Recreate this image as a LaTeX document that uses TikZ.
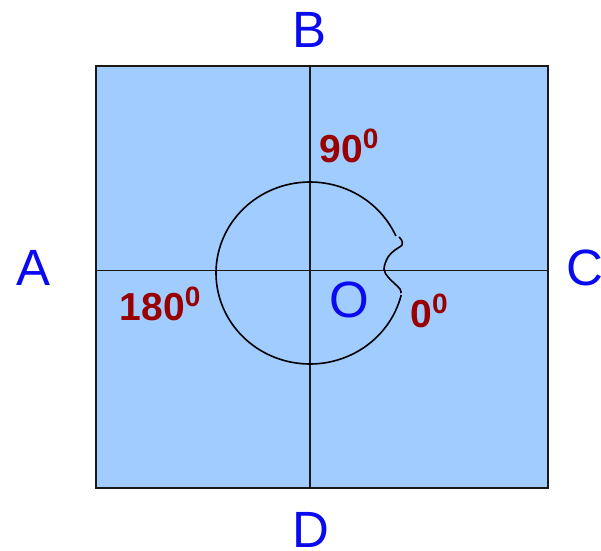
\documentclass[tikz,border=0pt]{standalone}
\usepackage{fontspec}
\setmainfont{Liberation Sans}
\definecolor{fillblue}{RGB}{160,204,255}
\definecolor{textblue}{RGB}{10,10,240}
\definecolor{degred}{RGB}{153,0,0}
\tikzset{
  letter/.style={text=textblue, font=\fontsize{51}{51}\selectfont, inner sep=0pt},
  deg/.style={text=degred, font=\fontsize{39}{39}\selectfont\bfseries, inner sep=0pt},
  thin line/.style={line width=1.5pt, draw=black!90}
}
\newcommand{\degsup}{\raisebox{14pt}{\fontsize{28}{28}\selectfont 0}}
\begin{document}
\begin{tikzpicture}[x=1pt,y=-1pt]
\useasboundingbox (0,0) rectangle (601,550);
\node[draw=black!90, line width=1.6pt, fill=fillblue, minimum width=452pt, minimum height=422pt, inner sep=0pt] (sq) at (322,277) {};
\coordinate (vt) at (310,66);
\coordinate (vb) at (310,488);
\coordinate (hl) at (96,270.5);
\coordinate (hr) at (548,270.5);
\draw[thin line] (vt) -- (vb);
\draw[thin line] (hl) -- (hr);
\draw[line width=1.6pt] plot[domain=24:346, samples=120] ({310+94*cos(\x)}, {273-91*sin(\x)});
\draw[line width=1.6pt] plot[smooth, tension=0.6] coordinates {(399,237) (401.5,240) (402,245) (395,250) (388,257) (384,269) (388,277) (394,283) (400,289) (401,293)};
\node[letter] (A) at (34,268) {A};
\node[letter] (B) at (310,30) {B};
\node[letter] (C) at (585,268) {C};
\node[letter] (D) at (311,530) {D};
\node[letter] (O) at (349,300) {O};
\node[deg] (d90) at (349,146) {90\degsup};
\node[deg] (d180) at (160,304) {180\degsup};
\node[deg] (d0) at (429,311) {0\degsup};
\end{tikzpicture}
\end{document}
